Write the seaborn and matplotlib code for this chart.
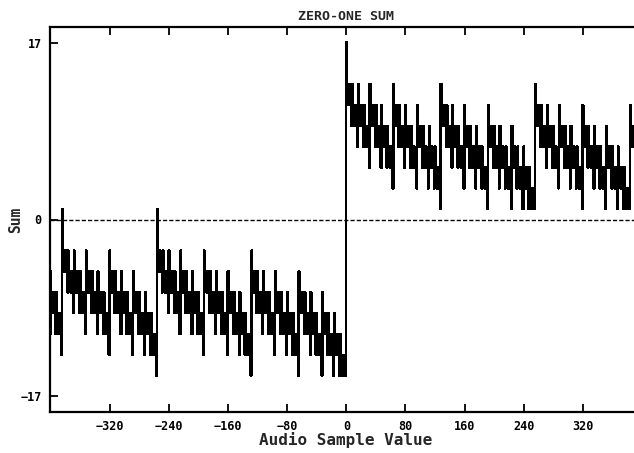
import numpy as np
import pandas as pd
import seaborn as sns
import matplotlib
matplotlib.use("Agg")
import matplotlib.pyplot as plt

# Sample values on the x axis and the word size of each sample
sample_first = -401
sample_last = 400
word_bits = 16

x_ticks = [-320, -240, -160, -80, 0, 80, 160, 240, 320]
y_ticks = [-17, 0, 17]

samples = np.arange(sample_first, sample_last + 1)
codes = samples & ((1 << word_bits) - 1)          # 16-bit two's complement words
ones = np.array([bin(int(c)).count("1") for c in codes])
balance = (word_bits - ones) - ones               # +1 per zero bit, -1 per one bit
# closing term: +1 when the balance is a whole multiple of 16, otherwise -1
zero_one_sum = balance + np.where(balance % 16 == 0, 1, -1)

df = pd.DataFrame({"value": samples, "sum": zero_one_sum})

sns.set_theme(style="ticks")
plt.rcParams["font.family"] = ["DejaVu Sans Mono"]

fig = plt.figure(figsize=(6.34, 4.53), dpi=100)
ax = fig.add_axes([50 / 634, 1 - 412 / 453, (642 - 50) / 634, (412 - 27) / 453])

sns.lineplot(data=df, x="value", y="sum", ax=ax, color="black",
             linewidth=1.1, estimator=None, sort=False,
             drawstyle="steps-mid", antialiased=False)
ax.axhline(0, color="black", linewidth=1.0, linestyle=(0, (3, 1.5)), zorder=0)

ax.set_xlim(-401, 400)
ax.set_ylim(-18.5, 18.5)
ax.set_xticks(x_ticks)
ax.set_yticks(y_ticks)
ax.tick_params(axis="both", direction="in", length=6, width=1.3,
               top=True, right=True, labelsize=8.5, pad=6, colors="black")
for lab in ax.get_xticklabels() + ax.get_yticklabels():
    lab.set_fontweight("bold")
for s in ax.spines.values():
    s.set_linewidth(1.6)
    s.set_color("black")

ax.set_title("ZERO-ONE SUM", fontsize=9.5, fontweight="bold", pad=5)
ax.set_xlabel("Audio Sample Value", fontsize=11.5, fontweight="bold", labelpad=-1)
ax.set_ylabel("Sum", fontsize=10.5, fontweight="bold", labelpad=-2)

fig.savefig("out.png", dpi=100, facecolor="white")
